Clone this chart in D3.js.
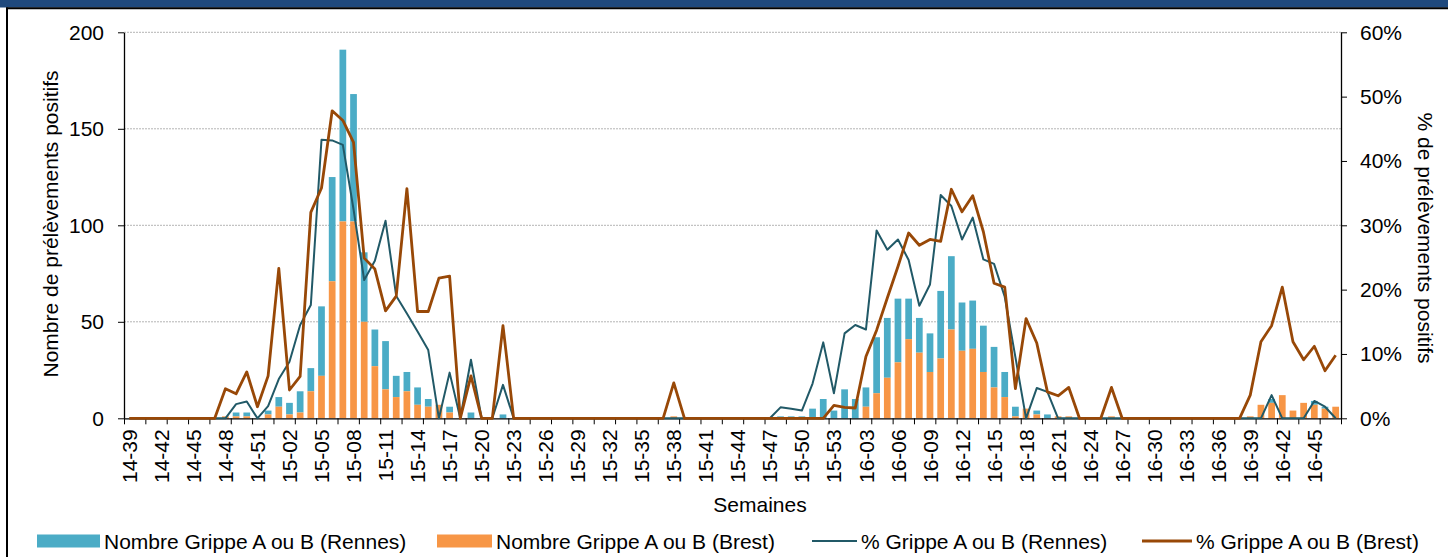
<!DOCTYPE html>
<html lang="fr">
  <head>
    <meta charset="utf-8" />
    <script src="https://d3js.org/d3.v7.min.js"></script>
    <style>
      body { margin: 0; background: white; }
      text { font-family: "Liberation Sans", Arial, sans-serif; fill: black; }
    </style>
  </head>
  <body>
    <script type="text/javascript">

      // weeks (year-week)
      var weeks = [
        "14-39","14-40","14-41","14-42","14-43","14-44","14-45","14-46","14-47","14-48",
        "14-49","14-50","14-51","14-52",
        "15-01","15-02","15-03","15-04","15-05","15-06","15-07","15-08","15-09","15-10",
        "15-11","15-12","15-13","15-14","15-15","15-16","15-17","15-18","15-19","15-20",
        "15-21","15-22","15-23","15-24","15-25","15-26","15-27","15-28","15-29","15-30",
        "15-31","15-32","15-33","15-34","15-35","15-36","15-37","15-38","15-39","15-40",
        "15-41","15-42","15-43","15-44","15-45","15-46","15-47","15-48","15-49","15-50",
        "15-51","15-52","15-53",
        "16-01","16-02","16-03","16-04","16-05","16-06","16-07","16-08","16-09","16-10",
        "16-11","16-12","16-13","16-14","16-15","16-16","16-17","16-18","16-19","16-20",
        "16-21","16-22","16-23","16-24","16-25","16-26","16-27","16-28","16-29","16-30",
        "16-31","16-32","16-33","16-34","16-35","16-36","16-37","16-38","16-39","16-40",
        "16-41","16-42","16-43","16-44","16-45","16-46","16-47"
      ];

      // labelled weeks on the x axis
      var tickLabels = [
        "14-39","14-42","14-45","14-48","14-51","15-02","15-05","15-08","15-11","15-14",
        "15-17","15-20","15-23","15-26","15-29","15-32","15-35","15-38","15-41","15-44",
        "15-47","15-50","15-53","16-03","16-06","16-09","16-12","16-15","16-18","16-21",
        "16-24","16-27","16-30","16-33","16-36","16-39","16-42","16-45"
      ];

      // number of positive samples, Rennes
      var countRennes = [
        0,0,0,0,0,0,0,0,0,0, 2,2,0,2,5,6,11,12,36,54,
        89,66,36,19,25,11,10,9,4,0, 3,0,3,0,0,2,0,0,0,0,
        0,0,0,0,0,0,0,0,0,0, 0,0,0,0,0,0,0,0,0,0,
        0,1,1,1,5,10,4,15,10,10, 29,31,33,21,18,20,35,38,25,25,
        24,21,13,5,0,2,2,0,0,0, 0,0,0,0,0,0,0,0,0,0,
        0,0,0,0,0,0,0,2,0,0, 0,2,1,0
      ];

      // number of positive samples, Brest
      var countBrest = [
        0,0,0,0,0,0,0,0,0,1, 1,1,0,2,6,2,3,14,22,71,
        102,102,50,27,15,11,14,7,6,7, 3,0,0,0,0,0,0,0,0,0,
        0,0,0,0,0,0,0,0,0,0, 0,1,0,0,0,0,0,0,0,0,
        0,0,0,0,0,0,0,0,0,6, 13,21,29,41,34,24,31,46,35,36,
        24,16,11,1,5,2,0,1,1,0, 0,0,1,0,0,0,0,0,0,0,
        0,0,0,0,0,1,7,8,12,4, 8,7,5,6
      ];

      // % positive samples, Rennes
      var pctRennes = [
        0,0,0,0,0,0,0,0,0,0, 2.2,2.6,0,1.9,6.1,8.8,14.5,17.6,43.3,43.2,
        42.5,32.5,21.5,24.5,30.7,19.0,16.3,13.5,10.6,0, 7.1,0,9.1,0,0,5.2,0,0,0,0,
        0,0,0,0,0,0,0,0,0,0, 0,0,0,0,0,0,0,0,0,0,
        0,1.7,1.5,1.2,5.4,11.8,3.9,13.2,14.5,13.8, 29.2,26.2,27.8,24.6,17.5,20.8,34.7,33.0,27.8,31.2,
        24.7,24.0,18.9,9.5,0,4.7,4.1,0,0,0, 0,0,0,0,0,0,0,0,0,0,
        0,0,0,0,0,0,0,3.6,0,0, 0,2.7,1.8,0
      ];

      // % positive samples, Brest
      var pctBrest = [
        0,0,0,0,0,0,0,0,0,4.6, 3.8,7.2,1.8,6.6,23.3,4.4,6.5,32.0,35.8,47.8,
        46.3,42.9,24.9,23.2,16.7,19.0,35.7,16.6,16.6,21.8, 22.1,0,6.6,0,0,14.4,0,0,0,0,
        0,0,0,0,0,0,0,0,0,0, 0,5.5,0,0,0,0,0,0,0,0,
        0,0,0,0,0,0,2.0,1.7,1.6,9.6, 13.7,18.7,23.6,28.8,26.9,27.8,27.5,35.6,32.1,34.6,
        29.0,21.0,20.4,4.6,15.5,11.7,4.1,3.5,4.8,0, 0,0,4.8,0,0,0,0,0,0,0,
        0,0,0,0,0,3.6,11.9,14.4,20.4,11.9, 9.1,11.2,7.4,9.8
      ];

      var countTicks = [0, 50, 100, 150, 200];
      var pctTicks = [0, 10, 20, 30, 40, 50, 60];

      var legendLabels = [
        "Nombre Grippe A ou B (Rennes)",
        "Nombre Grippe A ou B (Brest)",
        "% Grippe A ou B (Rennes)",
        "% Grippe A ou B (Brest)"
      ];

      // layout
      var w = 1448;
      var h = 557;
      var leftChart = 124;
      var rightChart = 1341;
      var topChart = 32.3;
      var bottomChart = 418.3;
      var fontSize = "21px";

      var colRennes = "#4bacc6";
      var colBrest = "#f79646";
      var colLineRennes = "#215967";
      var colLineBrest = "#984807";

      var svg = d3.select("body")
                  .append("svg")
                  .attr("width", w)
                  .attr("height", h);

      // frame: dark header band and black border
      svg.append("rect")
         .attr("x", 0).attr("y", 0)
         .attr("width", w).attr("height", 7.5)
         .attr("fill", "#1f497d");
      svg.append("line")
         .attr("x1", 6).attr("x2", w)
         .attr("y1", 8.3).attr("y2", 8.3)
         .attr("stroke", "black").attr("stroke-width", 2);
      svg.append("line")
         .attr("x1", 7).attr("x2", 7)
         .attr("y1", 7.5).attr("y2", h)
         .attr("stroke", "black").attr("stroke-width", 2);

      // scales
      var xScale = d3.scaleBand()
                     .domain(weeks)
                     .range([leftChart, rightChart])
                     .paddingInner(0.37)
                     .paddingOuter(0.185);
      var xIndex = d3.scaleLinear()
                     .domain([0, weeks.length])
                     .range([leftChart, rightChart]);
      var yScale = d3.scaleLinear()
                     .domain([0, 200])
                     .range([bottomChart, topChart]);
      var yPct = d3.scaleLinear()
                   .domain([0, 60])
                   .range([bottomChart, topChart]);

      // dotted grid lines
      svg.append("g")
         .selectAll("line")
         .data(countTicks.slice(1))
         .enter()
         .append("line")
         .attr("x1", leftChart).attr("x2", rightChart)
         .attr("y1", function(d) { return yScale(d); })
         .attr("y2", function(d) { return yScale(d); })
         .attr("stroke", "#b4b4b4")
         .attr("stroke-width", 1)
         .attr("stroke-dasharray", "2,1");

      // stacked bars: Brest at the bottom, Rennes on top
      svg.append("g")
         .selectAll("rect")
         .data(weeks)
         .enter()
         .append("rect")
         .attr("x", function(d) { return xScale(d); })
         .attr("width", xScale.bandwidth())
         .attr("y", function(d, i) { return yScale(countBrest[i] + countRennes[i]); })
         .attr("height", function(d, i) { return yScale(countBrest[i]) - yScale(countBrest[i] + countRennes[i]); })
         .attr("fill", colRennes);
      svg.append("g")
         .selectAll("rect")
         .data(weeks)
         .enter()
         .append("rect")
         .attr("x", function(d) { return xScale(d); })
         .attr("width", xScale.bandwidth())
         .attr("y", function(d, i) { return yScale(countBrest[i]); })
         .attr("height", function(d, i) { return bottomChart - yScale(countBrest[i]); })
         .attr("fill", colBrest);

      // x axis: ticks every 2 weeks, labels every 3 weeks
      var tickIdx = d3.range(0, weeks.length + 1, 2);
      svg.append("g")
         .attr("transform", "translate(0," + bottomChart + ")")
         .call(d3.axisBottom(xIndex)
                 .tickValues(tickIdx)
                 .tickFormat("")
                 .tickSize(6)
                 .tickSizeOuter(0))
         .call(function(g) {
           g.select(".domain").attr("stroke", "black").attr("stroke-width", 1.3);
           g.selectAll(".tick line").attr("stroke", "black");
         });

      svg.append("g")
         .attr("transform", "translate(0," + bottomChart + ")")
         .call(d3.axisBottom(xScale)
                 .tickValues(tickLabels)
                 .tickSize(0))
         .call(function(g) {
           g.select(".domain").remove();
           g.selectAll("text")
            .attr("transform", "rotate(-90)")
            .attr("text-anchor", "end")
            .attr("x", -11)
            .attr("y", 0)
            .attr("dy", "0.36em")
            .style("font-size", fontSize)
            .style("font-family", "Liberation Sans, Arial, sans-serif")
            .attr("fill", "black");
         });

      // left axis
      svg.append("g")
         .attr("transform", "translate(" + leftChart + ",0)")
         .call(d3.axisLeft(yScale)
                 .tickValues(countTicks)
                 .tickSize(6)
                 .tickSizeOuter(0)
                 .tickPadding(14))
         .call(function(g) {
           g.select(".domain").attr("stroke", "black").attr("stroke-width", 1.3);
           g.selectAll(".tick line").attr("stroke", "black");
           g.selectAll("text")
            .style("font-size", fontSize)
            .style("font-family", "Liberation Sans, Arial, sans-serif")
            .attr("fill", "black");
         });

      // right axis
      svg.append("g")
         .attr("transform", "translate(" + rightChart + ",0)")
         .call(d3.axisRight(yPct)
                 .tickValues(pctTicks)
                 .tickFormat(function(d) { return d + "%"; })
                 .tickSize(6)
                 .tickSizeOuter(0)
                 .tickPadding(13))
         .call(function(g) {
           g.select(".domain").attr("stroke", "black").attr("stroke-width", 1.3);
           g.selectAll(".tick line").attr("stroke", "black");
           g.selectAll("text")
            .style("font-size", fontSize)
            .style("font-family", "Liberation Sans, Arial, sans-serif")
            .attr("fill", "black");
         });

      // percentage lines
      var pctLine = d3.line()
                      .x(function(d, i) { return xScale(weeks[i]) + xScale.bandwidth() / 2; })
                      .y(function(d) { return yPct(d); });

      svg.append("path")
         .datum(pctRennes)
         .attr("d", pctLine)
         .attr("fill", "none")
         .attr("stroke", colLineRennes)
         .attr("stroke-width", 2)
         .attr("stroke-linejoin", "round");

      svg.append("path")
         .datum(pctBrest)
         .attr("d", pctLine)
         .attr("fill", "none")
         .attr("stroke", colLineBrest)
         .attr("stroke-width", 2.8)
         .attr("stroke-linejoin", "round");

      // axis titles
      svg.append("text")
         .attr("x", 760)
         .attr("y", 512)
         .attr("text-anchor", "middle")
         .style("font-size", fontSize)
         .text("Semaines");

      svg.append("text")
         .attr("transform", "translate(58,224) rotate(-90)")
         .attr("text-anchor", "middle")
         .style("font-size", fontSize)
         .text("Nombre de prélèvements positifs");

      svg.append("text")
         .attr("transform", "translate(1418,238) rotate(90)")
         .attr("text-anchor", "middle")
         .style("font-size", fontSize)
         .text("% de prélèvements positifs");

      // legend
      var legendY = 541;
      var legendX = [37, 437, 812, 1142];
      var legendKeyW = [63, 55, 45, 50];

      legendLabels.forEach(function(label, i) {
        if (i < 2) {
          svg.append("rect")
             .attr("x", legendX[i])
             .attr("y", legendY - 6.5)
             .attr("width", legendKeyW[i])
             .attr("height", 13)
             .attr("fill", i == 0 ? colRennes : colBrest);
        } else {
          svg.append("line")
             .attr("x1", legendX[i])
             .attr("x2", legendX[i] + legendKeyW[i])
             .attr("y1", legendY).attr("y2", legendY)
             .attr("stroke", i == 2 ? colLineRennes : colLineBrest)
             .attr("stroke-width", i == 2 ? 2 : 2.8);
        }
        svg.append("text")
           .attr("x", legendX[i] + legendKeyW[i] + 4)
           .attr("y", legendY)
           .attr("dy", "0.36em")
           .style("font-size", fontSize)
           .text(label);
      });

    </script>
  </body>
</html>
